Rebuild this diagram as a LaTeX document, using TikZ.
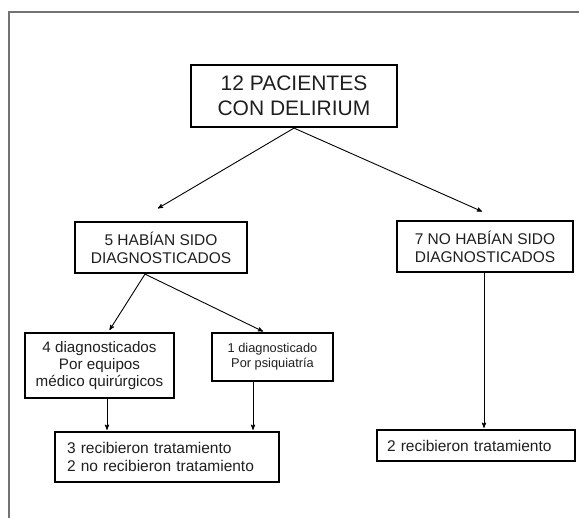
\documentclass[tikz,border=0pt]{standalone}
\usepackage{fontspec}
\setmainfont{Liberation Sans}
\usetikzlibrary{arrows}
\definecolor{framegray}{gray}{0.45}
\definecolor{textgray}{gray}{0.12}

\begin{document}
\begin{tikzpicture}[x=1pt,y=-1pt,>=stealth',shorten >=1pt,
    box node/.style={rectangle,draw,line width=2.2pt,inner sep=0pt,align=center,text=textgray},
    big font/.style={font=\fontsize{21}{25}\selectfont},
    mid font/.style={font=\fontsize{15.5}{18}\selectfont},
    small font/.style={font=\fontsize{12.8}{15}\selectfont}]
    \useasboundingbox (0,0) rectangle (580,518);
    \draw[framegray,line width=1.4pt] (9,518) -- (9,12) -- (580,12);
    \node[box node,big font,minimum width=206pt,minimum height=62pt] (1) at (294,96) {12 PACIENTES\\CON DELIRIUM};
    \node[box node,mid font,minimum width=172pt,minimum height=51pt] (2) at (161,247.5) {5 HABÍAN SIDO\\DIAGNOSTICADOS};
    \node[box node,mid font,minimum width=176pt,minimum height=51pt] (3) at (485,246.5) {7 NO HABÍAN SIDO\\DIAGNOSTICADOS};
    \node[box node,font=\fontsize{15.2}{17}\selectfont,minimum width=149pt,minimum height=65pt] (4) at (99.5,365.5) {4 diagnosticados\\Por equipos\\médico quirúrgicos};
    \node[box node,small font,minimum width=121pt,minimum height=48pt] (5) at (272.5,357) {1 diagnosticado\\Por psiquiatría};
    \node[box node,font=\fontsize{15.5}{17.5}\selectfont,align=left,inner xsep=12pt,text width=200pt,minimum height=50pt] (6) at (167,457) {3 recibieron tratamiento\\2 no recibieron tratamiento};
    \node[box node,mid font,align=left,inner xsep=10pt,text width=178pt,minimum height=31pt] (7) at (476,445.5) {2 recibieron tratamiento};
    \path[->,line width=0.9pt]
    (1.south) edge ([xshift=-4pt,yshift=12pt]2.north)
    edge ([xshift=-2pt,yshift=8pt]3.north)
    ([xshift=-16pt]2.south) edge ([xshift=9.5pt,yshift=1pt]4.north)
    edge ([xshift=-8.5pt]5.north)
    ([xshift=7.5pt]4.south) edge ([xshift=7.5pt]4.south |- 6.north)
    ([xshift=-19.5pt]5.south) edge ([xshift=-19.5pt]5.south |- 6.north)
    ([xshift=-1pt]3.south) edge ([xshift=-1pt]3.south |- 7.north);
\end{tikzpicture}
\end{document}
